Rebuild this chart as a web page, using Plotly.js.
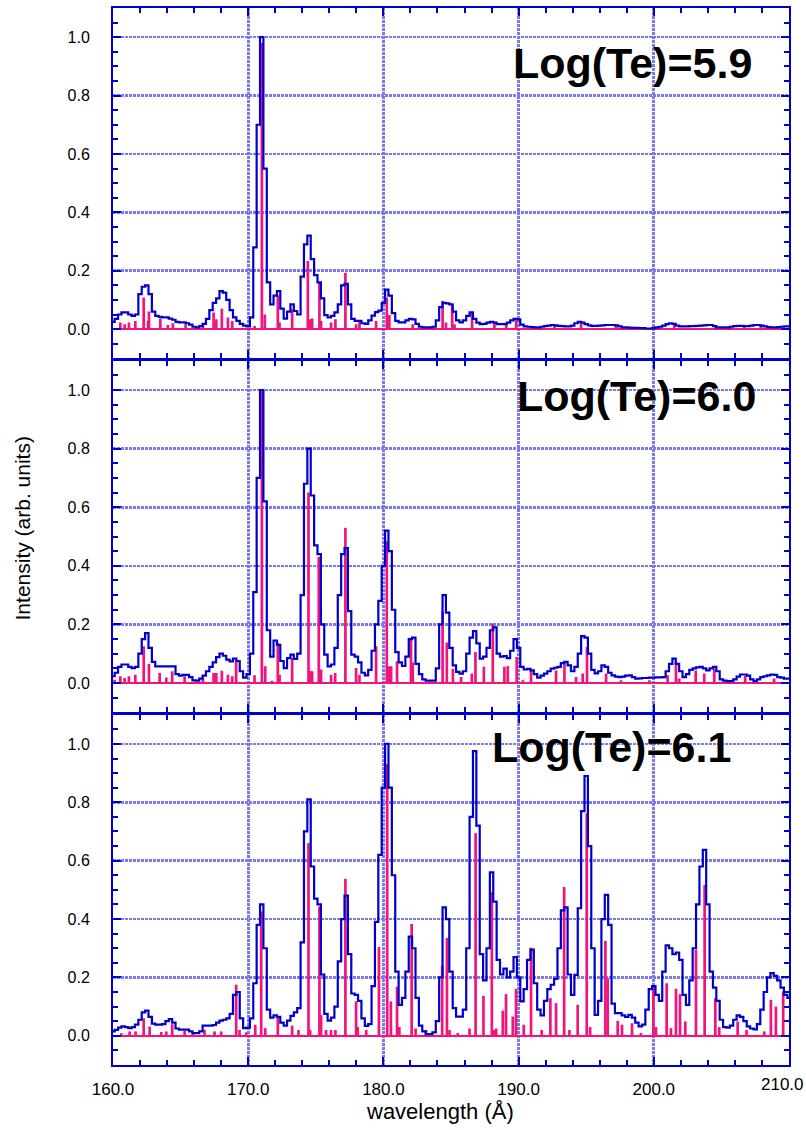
<!DOCTYPE html>
<html>
<head>
<meta charset="utf-8">
<script src="https://cdn.plot.ly/plotly-3.0.1.min.js"></script>
<style>html,body{margin:0;padding:0;background:#fff}</style>
</head>
<body>
<div id="chart" style="width:806px;height:1130px"></div>
<script>
// Synthetic EUV spectra 160-210 Å at three temperatures.
// Smoothed profiles are sampled on a regular wavelength grid.
const wlStart = 160;
const wlStep = 0.25;

const profile59 = [
  0.025,0.035,0.05,0.057,0.057,0.05,0.045,0.05,0.12,0.145,0.15,0.12,0.06,0.045,0.042,0.04,0.04,0.036,0.032,0.025,
  0.023,0.023,0.02,0.015,0.008,0.006,0.01,0.018,0.035,0.065,0.09,0.105,0.13,0.125,0.1,0.065,0.04,0.028,0.018,0.012,
  0.009,0.04,0.28,0.7,1.0,0.55,0.16,0.085,0.115,0.13,0.07,0.036,0.06,0.085,0.062,0.05,0.18,0.29,0.32,0.24,
  0.185,0.16,0.105,0.048,0.04,0.045,0.057,0.085,0.15,0.155,0.085,0.035,0.028,0.028,0.02,0.018,0.03,0.046,0.058,0.063,
  0.09,0.135,0.115,0.055,0.028,0.023,0.023,0.03,0.035,0.033,0.018,0.008,0.006,0.006,0.006,0.008,0.03,0.075,0.09,0.088,
  0.085,0.06,0.03,0.023,0.03,0.045,0.057,0.035,0.022,0.017,0.018,0.022,0.025,0.022,0.017,0.017,0.017,0.022,0.03,0.035,
  0.033,0.015,0.009,0.008,0.007,0.006,0.006,0.008,0.01,0.012,0.014,0.013,0.011,0.01,0.009,0.009,0.012,0.02,0.025,0.022,
  0.017,0.013,0.011,0.011,0.012,0.013,0.014,0.014,0.014,0.013,0.009,0.006,0.006,0.005,0.004,0.004,0.003,0.003,0.002,0.002,
  0.003,0.006,0.008,0.012,0.017,0.02,0.018,0.012,0.009,0.009,0.009,0.01,0.01,0.011,0.012,0.013,0.014,0.014,0.01,0.006,
  0.006,0.006,0.006,0.008,0.01,0.011,0.011,0.01,0.01,0.012,0.014,0.014,0.012,0.009,0.007,0.006,0.006,0.007,0.008,0.009,
  0.009
];

const profile60 = [
  0.023,0.035,0.055,0.063,0.063,0.055,0.051,0.055,0.1,0.15,0.17,0.12,0.072,0.057,0.057,0.057,0.057,0.057,0.057,0.03,
  0.025,0.028,0.028,0.02,0.009,0.008,0.015,0.025,0.04,0.055,0.07,0.088,0.1,0.093,0.08,0.074,0.083,0.075,0.04,0.018,
  0.03,0.1,0.31,0.7,1.0,0.62,0.18,0.09,0.145,0.13,0.075,0.051,0.085,0.097,0.082,0.1,0.3,0.68,0.8,0.64,
  0.47,0.44,0.2,0.097,0.057,0.063,0.12,0.3,0.44,0.46,0.245,0.097,0.09,0.07,0.035,0.026,0.045,0.11,0.2,0.28,
  0.4,0.52,0.45,0.25,0.105,0.07,0.058,0.09,0.15,0.155,0.065,0.03,0.012,0.008,0.008,0.008,0.05,0.2,0.3,0.24,
  0.12,0.06,0.038,0.032,0.04,0.1,0.155,0.177,0.135,0.083,0.09,0.12,0.18,0.19,0.1,0.09,0.092,0.085,0.11,0.15,
  0.12,0.055,0.046,0.048,0.043,0.03,0.018,0.025,0.032,0.04,0.049,0.052,0.055,0.068,0.072,0.06,0.04,0.055,0.1,0.16,
  0.155,0.1,0.045,0.033,0.04,0.06,0.055,0.035,0.026,0.022,0.02,0.022,0.025,0.026,0.02,0.015,0.016,0.017,0.017,0.018,
  0.018,0.019,0.019,0.02,0.04,0.065,0.083,0.065,0.04,0.02,0.03,0.045,0.05,0.053,0.055,0.05,0.043,0.05,0.055,0.04,
  0.012,0.008,0.006,0.006,0.012,0.022,0.029,0.029,0.025,0.012,0.006,0.012,0.02,0.023,0.026,0.029,0.028,0.02,0.018,0.015,
  0.015
];

const profile61 = [
  0.015,0.02,0.028,0.032,0.03,0.026,0.03,0.038,0.055,0.08,0.086,0.065,0.042,0.038,0.038,0.04,0.05,0.057,0.045,0.025,
  0.021,0.021,0.021,0.015,0.009,0.009,0.015,0.035,0.035,0.035,0.037,0.045,0.052,0.055,0.06,0.075,0.14,0.15,0.06,0.026,
  0.028,0.06,0.18,0.38,0.45,0.3,0.09,0.062,0.07,0.065,0.045,0.035,0.052,0.068,0.08,0.095,0.32,0.7,0.81,0.58,
  0.47,0.45,0.21,0.075,0.052,0.062,0.1,0.255,0.4,0.48,0.28,0.145,0.14,0.12,0.06,0.034,0.04,0.17,0.39,0.62,
  0.85,1.0,0.85,0.55,0.22,0.106,0.13,0.22,0.34,0.3,0.13,0.035,0.015,0.006,0.006,0.012,0.05,0.2,0.44,0.4,
  0.22,0.095,0.066,0.066,0.09,0.3,0.75,0.975,0.72,0.28,0.19,0.3,0.56,0.46,0.26,0.21,0.23,0.2,0.22,0.27,
  0.2,0.118,0.16,0.26,0.295,0.18,0.09,0.07,0.12,0.16,0.175,0.195,0.3,0.43,0.44,0.21,0.14,0.209,0.437,0.77,
  0.89,0.65,0.3,0.072,0.12,0.4,0.483,0.38,0.11,0.078,0.078,0.07,0.065,0.072,0.062,0.045,0.032,0.038,0.09,0.16,
  0.17,0.14,0.12,0.22,0.31,0.3,0.28,0.285,0.26,0.14,0.106,0.19,0.3,0.45,0.58,0.637,0.45,0.22,0.165,0.12,
  0.055,0.03,0.028,0.035,0.055,0.07,0.065,0.05,0.032,0.025,0.022,0.04,0.09,0.15,0.2,0.215,0.205,0.19,0.165,0.14,
  0.13
];

// Individual line intensities (wavelength in Å, normalised intensity)
const lineWl59 = [160.54,160.86,161.18,161.65,162.27,162.59,162.66,163.5,164.06,164.43,165.37,166.65,167.44,167.64,168.05,168.5,168.82,170.47,171.01,171.23,172.19,172.32,173.25,174.41,174.58,174.73,175.27,175.39,176.13,176.45,177.19,177.98,178.23,179.46,180.25,180.44,182.17,184.38,184.63,185.09,185.26,186.56,188.21,189.08,189.82,192.65,194.62,197.2,201.51,204.59,206.69,207.92];
const lineInt59 = [0.023,0.017,0.023,0.028,0.108,0.028,0.06,0.036,0.014,0.02,0.017,0.017,0.057,0.034,0.07,0.04,0.028,0.011,0.98,0.05,0.116,0.023,0.068,0.233,0.034,0.036,0.16,0.028,0.023,0.034,0.193,0.017,0.028,0.028,0.108,0.048,0.017,0.097,0.023,0.08,0.017,0.057,0.025,0.017,0.03,0.014,0.02,0.014,0.017,0.012,0.01,0.012];

const lineWl60 = [160.12,160.54,160.86,161.18,161.65,162.27,162.66,163.45,163.94,164.38,165.3,166.65,167.44,167.64,168.05,168.5,168.82,169.11,170.47,171.01,171.26,171.75,172.19,172.32,173.25,174.46,174.58,174.73,175.22,175.39,176.13,176.43,177.19,177.98,178.23,179.46,180.25,180.39,180.57,181.01,182.04,182.17,184.38,184.69,185.14,185.75,186.54,186.81,187.43,188.09,188.95,189.2,189.86,190.31,190.92,192.77,193.39,194.25,194.74,195.06,196.47,197.57,199.67,201.02,201.64,201.88,203.1,203.73,204.47,206.76,208.9];
const lineInt60 = [0.011,0.023,0.017,0.023,0.028,0.125,0.065,0.034,0.019,0.04,0.023,0.019,0.034,0.034,0.042,0.028,0.023,0.074,0.026,1.0,0.057,0.008,0.137,0.028,0.085,0.65,0.042,0.04,0.43,0.046,0.028,0.034,0.53,0.051,0.028,0.125,0.484,0.057,0.057,0.074,0.154,0.07,0.245,0.138,0.049,0.02,0.032,0.106,0.055,0.203,0.055,0.058,0.089,0.009,0.043,0.043,0.072,0.02,0.032,0.123,0.032,0.009,0.009,0.026,0.072,0.015,0.043,0.032,0.049,0.024,0.015];

const lineWl61 = [160.62,161.23,161.67,162.27,162.71,163.57,163.94,164.38,165.3,165.91,166.77,167.51,168.0,169.11,169.36,169.85,170.52,170.96,171.26,172.19,173.25,173.72,174.46,174.58,175.27,175.39,175.76,176.13,176.45,177.19,177.98,178.1,178.73,179.67,180.28,180.55,181.01,181.18,182.09,182.38,183.16,184.35,184.7,184.89,185.5,186.37,186.82,187.4,188.02,188.17,188.34,188.83,189.07,189.57,189.81,190.38,190.92,191.71,192.35,192.77,193.37,193.76,194.37,195.04,195.29,196.42,196.59,197.33,197.65,198.39,199.05,199.97,200.16,200.95,201.27,201.64,201.94,202.33,203.12,203.76,204.55,204.84,206.2,206.86,208.17,208.66,209.03,209.57];
const lineInt61 = [0.009,0.015,0.015,0.06,0.032,0.013,0.015,0.04,0.017,0.012,0.021,0.015,0.015,0.175,0.02,0.012,0.038,0.426,0.026,0.066,0.035,0.02,0.66,0.02,0.443,0.072,0.02,0.02,0.02,0.538,0.118,0.03,0.02,0.304,0.93,0.118,0.168,0.03,0.383,0.025,0.02,0.24,0.335,0.02,0.01,0.025,0.694,0.137,0.492,0.02,0.025,0.086,0.143,0.066,0.161,0.038,0.302,0.02,0.129,0.112,0.51,0.02,0.106,0.763,0.03,0.325,0.197,0.051,0.038,0.043,0.01,0.169,0.03,0.18,0.026,0.161,0.143,0.049,0.295,0.517,0.129,0.03,0.049,0.02,0.015,0.123,0.1,0.152];

const panelLabels = ['Log(Te)=5.9', 'Log(Te)=6.0', 'Log(Te)=6.1'];
const lastWlLabel = '210.0';

const BLUE = '#0000cd';
const PINK = '#f2147c';
const GRID = '#7a7ae8';
const FONT = 'Liberation Sans, Arial, Helvetica, sans-serif';

function wavelengthGrid(n) {
  const out = [];
  for (let i = 0; i < n; i++) out.push(+(wlStart + i * wlStep).toFixed(2));
  return out;
}

// top -> bottom panels
const panels = [
  {profile: profile59, wl: lineWl59, inten: lineInt59, xa: 'x3', ya: 'y'},
  {profile: profile60, wl: lineWl60, inten: lineInt60, xa: 'x2', ya: 'y2'},
  {profile: profile61, wl: lineWl61, inten: lineInt61, xa: 'x',  ya: 'y3'}
];

const traces = [];
panels.forEach(p => {
  traces.push({
    type: 'bar', x: p.wl, y: p.inten, width: 0.2,
    marker: {color: PINK, line: {width: 0}},
    xaxis: p.xa, yaxis: p.ya, hoverinfo: 'skip'
  });
  traces.push({
    type: 'scatter', mode: 'lines',
    x: wavelengthGrid(p.profile.length), y: p.profile,
    line: {color: BLUE, width: 2.2, shape: 'hvh'},
    xaxis: p.xa, yaxis: p.ya, hoverinfo: 'skip'
  });
});

function xAxis(anchor, labels) {
  return {
    anchor: anchor, range: [160, 210], showticklabels: labels,
    tickmode: 'linear', tick0: 160, dtick: 10, tickformat: '.1f',
    ticks: 'inside', ticklen: 8, tickwidth: 2, tickcolor: BLUE,
    minor: {tickmode: 'linear', tick0: 160, dtick: 2, ticks: 'inside', ticklen: 5, tickwidth: 2, tickcolor: BLUE, showgrid: false},
    showline: true, linecolor: BLUE, linewidth: 2, mirror: 'allticks',
    showgrid: true, gridcolor: GRID, gridwidth: 2.6, griddash: '3px,1px',
    zeroline: false, ticklabelstandoff: 8, ticklabeloverflow: 'hide past div',
    tickfont: {size: 17, color: '#000', family: FONT}
  };
}
function yAxis(domain) {
  return {
    domain: domain, range: [-0.1, 1.1],
    tickmode: 'linear', tick0: 0, dtick: 0.2, tickformat: '.1f',
    ticks: 'inside', ticklen: 8, tickwidth: 2, tickcolor: BLUE,
    minor: {tickmode: 'linear', tick0: 0, dtick: 0.05, ticks: 'inside', ticklen: 5, tickwidth: 2, tickcolor: BLUE, showgrid: false},
    showline: true, linecolor: BLUE, linewidth: 2, mirror: 'allticks',
    showgrid: true, gridcolor: GRID, gridwidth: 2.6, griddash: '3px,1px',
    zeroline: true, zerolinecolor: PINK, zerolinewidth: 2,
    ticklabelstandoff: 18,
    tickfont: {size: 16, color: '#000', family: FONT}
  };
}

const boldLabel = {size: 43, family: FONT, color: '#000', weight: 'bold'};

const layout = {
  width: 806, height: 1130,
  margin: {l: 113, r: 17, t: 8, b: 65},
  paper_bgcolor: '#fff', plot_bgcolor: '#fff',
  showlegend: false, barmode: 'overlay',
  font: {family: FONT, color: '#000'},
  xaxis: xAxis('y3', true),
  xaxis2: Object.assign(xAxis('y2', false), {matches: 'x'}),
  xaxis3: Object.assign(xAxis('y', false), {matches: 'x'}),
  yaxis: yAxis([0.6686, 1]),
  yaxis2: yAxis([0.3337, 0.6663]),
  yaxis3: yAxis([0, 0.3314]),
  annotations: [
    {text: panelLabels[0], xref: 'paper', yref: 'paper', x: 0.769, y: 0.948, xanchor: 'center', yanchor: 'middle', showarrow: false, font: boldLabel},
    {text: panelLabels[1], xref: 'paper', yref: 'paper', x: 0.774, y: 0.633, xanchor: 'center', yanchor: 'middle', showarrow: false, font: boldLabel},
    {text: panelLabels[2], xref: 'paper', yref: 'paper', x: 0.738, y: 0.301, xanchor: 'center', yanchor: 'middle', showarrow: false, font: boldLabel},
    // end-of-axis wavelength label kept inside the page
    {text: lastWlLabel, xref: 'paper', yref: 'paper', x: 1.0245, y: -0.0185, xanchor: 'right', yanchor: 'middle', showarrow: false, font: {size: 17, family: FONT, color: '#000'}},
    {text: 'Intensity (arb. units)', xref: 'paper', yref: 'paper', x: -0.134, y: 0.508, xanchor: 'center', yanchor: 'middle', textangle: -90, showarrow: false, font: {size: 21, family: FONT, color: '#000'}},
    {text: 'wavelength (Å)', xref: 'paper', yref: 'paper', x: 0.484, y: -0.044, xanchor: 'center', yanchor: 'middle', showarrow: false, font: {size: 22, family: FONT, color: '#000'}}
  ]
};

Plotly.newPlot('chart', traces, layout, {staticPlot: true, displayModeBar: false});
</script>
</body>
</html>
